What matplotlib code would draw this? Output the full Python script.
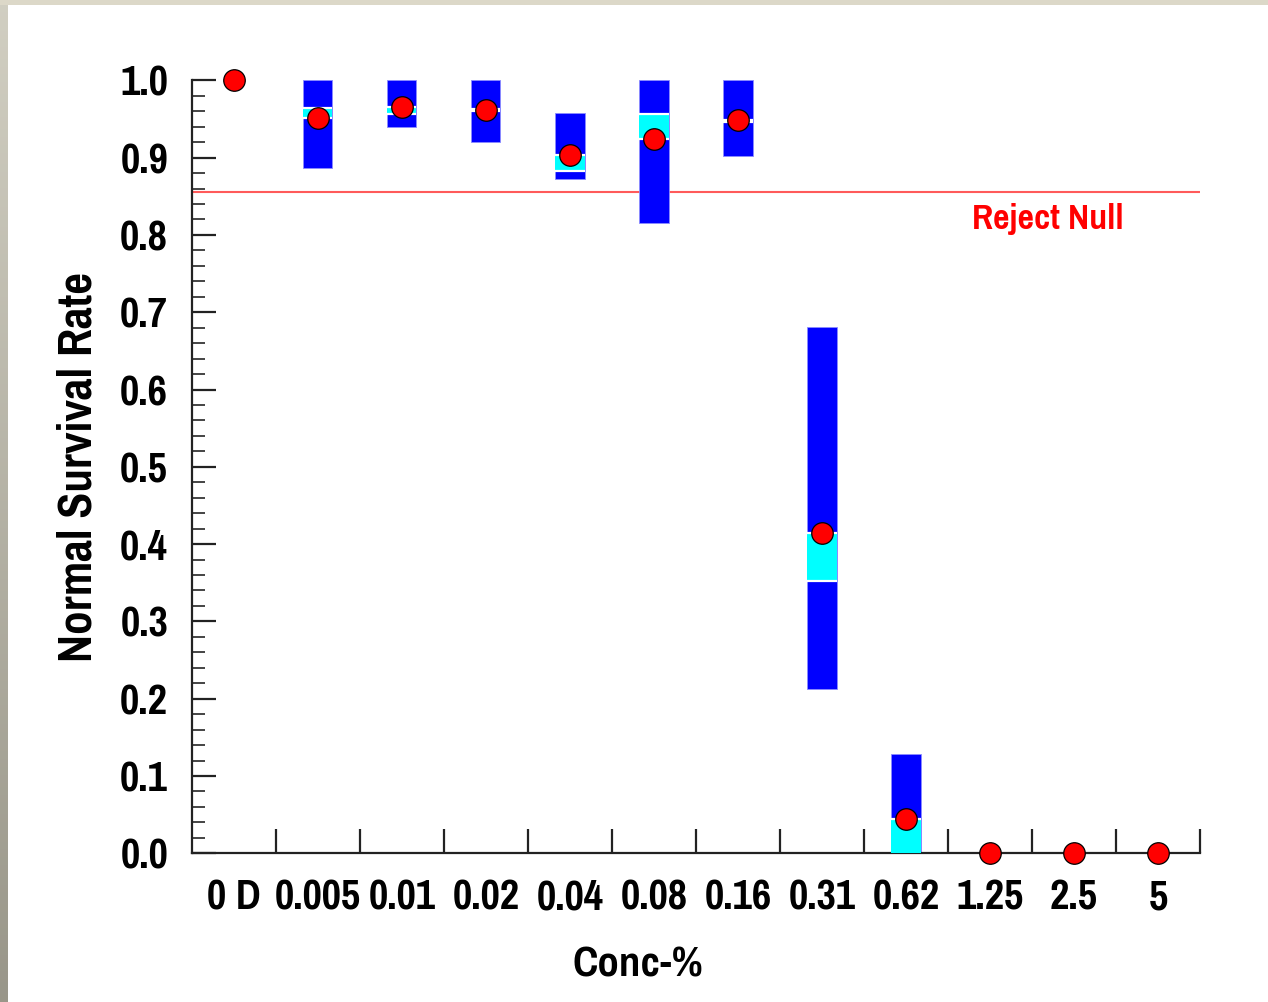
import numpy as np
import matplotlib
matplotlib.use("Agg")
import matplotlib.pyplot as plt

# ---------------- data ----------------
categories = ['0 D', '0.005', '0.01', '0.02', '0.04', '0.08', '0.16', '0.31', '0.62', '1.25', '2.5', '5']
mean_rate = [1.0, 0.951, 0.966, 0.962, 0.904, 0.924, 0.949, 0.415, 0.044, 0.0, 0.0, 0.0]
ci_low = [np.nan, 0.887, 0.940, 0.920, 0.872, 0.815, 0.902, 0.213, 0.0, np.nan, np.nan, np.nan]
ci_high = [np.nan, 1.0, 1.0, 1.0, 0.958, 1.0, 1.0, 0.681, 0.129, np.nan, np.nan, np.nan]
band_low = [np.nan, 0.951, 0.956, 0.960, 0.883, 0.924, 0.946, 0.352, 0.0, np.nan, np.nan, np.nan]
band_high = [np.nan, 0.964, 0.965, 0.963, 0.903, 0.956, 0.949, 0.415, 0.044, np.nan, np.nan, np.nan]
reject_null = 0.855
y_ticks = [0.0, 0.1, 0.2, 0.3, 0.4, 0.5, 0.6, 0.7, 0.8, 0.9, 1.0]

# ---------------- fonts ----------------
plt.rcParams['font.family'] = ['Pragati Narrow', 'DejaVu Sans']
plt.rcParams['font.weight'] = 'bold'

W, H = 1268, 1002
fig = plt.figure(figsize=(W / 100, H / 100), dpi=100, facecolor='white')

# decorative frame strips (left gradient, top strip)
gax = fig.add_axes([0, 0, 8 / W, 1])
grad = np.linspace(0, 1, 256).reshape(-1, 1)
top_c = np.array([0.82, 0.81, 0.76])
bot_c = np.array([0.60, 0.59, 0.54])
img = top_c[None, None, :] * (1 - grad[:, :, None]) + bot_c[None, None, :] * grad[:, :, None]
gax.imshow(img, aspect='auto', extent=[0, 1, 0, 1])
gax.axis('off')
tax = fig.add_axes([0, 1 - 5 / H, 1, 5 / H])
tax.set_facecolor('#dcd8c8')
tax.set_xticks([]); tax.set_yticks([])
for s in tax.spines.values():
    s.set_visible(False)

ax = fig.add_axes([191.7 / W, (H - 853.3) / H, (1200 - 191.7) / W, (853.3 - 80.3) / H])
x = np.arange(len(categories))
bw = 0.35

ci_low_a = np.array(ci_low); ci_high_a = np.array(ci_high)
band_low_a = np.array(band_low); band_high_a = np.array(band_high)
m = ~np.isnan(ci_low_a)
ax.bar(x[m], ci_high_a[m] - ci_low_a[m], bottom=ci_low_a[m], width=bw,
       color='#0000ff', edgecolor='#8c8cff', linewidth=0.6, zorder=2)
ax.bar(x[m], band_high_a[m] - band_low_a[m], bottom=band_low_a[m], width=bw,
       color='#00ffff', linewidth=0, zorder=3)
for xi, lo, hi in zip(x[m], band_low_a[m], band_high_a[m]):
    for v in (lo, hi):
        if v > 0.005:
            ax.plot([xi - bw / 2, xi + bw / 2], [v, v], color='white', lw=1.6,
                    solid_capstyle='butt', zorder=4)

ax.axhline(reject_null, color='#ff5a5a', lw=1.5, zorder=1.5)
ax.text(8.79, reject_null - 0.014, 'Reject Null', color='#ff0000', fontsize=28,
        fontweight='bold', ha='left', va='top')

ax.plot(x, mean_rate, linestyle='none', marker='o', markersize=15.5,
        markerfacecolor='#ff0000', markeredgecolor='black', markeredgewidth=0.9,
        zorder=6, clip_on=False)

ax.set_xlim(-0.5, 11.5)
ax.set_ylim(0, 1.0)
for s in ['top', 'right']:
    ax.spines[s].set_visible(False)
for s in ['left', 'bottom']:
    ax.spines[s].set_linewidth(1.6)
    ax.spines[s].set_color('#222222')

ax.set_xticks(x)
ax.set_xticklabels(categories, fontsize=33, fontweight='bold')
ax.set_xticks(np.arange(0.5, 11.6, 1), minor=True)
ax.tick_params(axis='x', which='major', length=0, pad=18)
ax.tick_params(axis='x', which='minor', direction='in', length=17, width=1.6, color='#222222')

ax.set_yticks(y_ticks)
ax.set_yticklabels([f'{v:.1f}' for v in y_ticks], fontsize=33, fontweight='bold')
ax.set_yticks(np.arange(0, 1.001, 0.02), minor=True)
ax.tick_params(axis='y', which='major', direction='in', length=17, width=1.6, color='#222222', pad=17)
ax.tick_params(axis='y', which='minor', direction='in', length=9, width=1.4, color='#444444')

ax.set_xlabel('Conc-%', fontsize=33.5, fontweight='bold', labelpad=21)
ax.xaxis.label.set_x((638 - 191.7) / (1200 - 191.7))
ax.set_ylabel('Normal Survival Rate', fontsize=37, fontweight='bold', labelpad=15)

fig.savefig('out.png', dpi=100, facecolor='white')
